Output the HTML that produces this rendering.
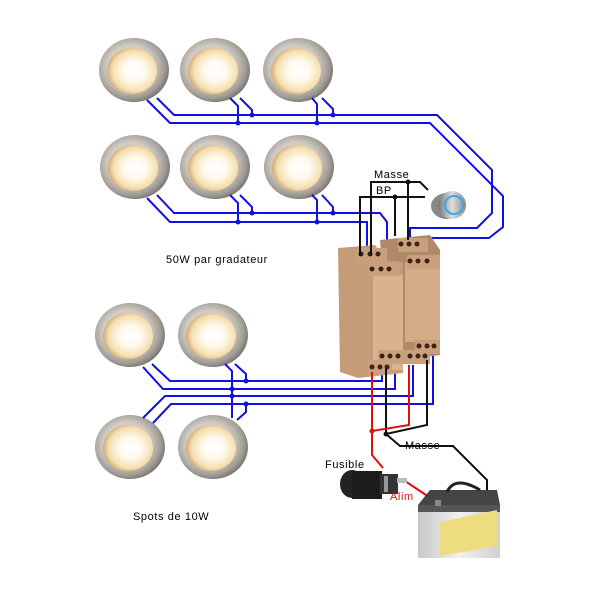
<!DOCTYPE html>
<html><head><meta charset="utf-8"><style>
html,body{margin:0;padding:0;background:#fff;width:600px;height:600px;overflow:hidden}
text{font-family:"Liberation Sans",sans-serif;font-size:11px;letter-spacing:0.6px}
</style></head><body>
<svg width="600" height="600" viewBox="0 0 600 600" xmlns="http://www.w3.org/2000/svg">
<defs>
<radialGradient id="ring" cx="0.45" cy="0.45" r="0.6">
<stop offset="0.55" stop-color="#d2ccc6"/><stop offset="0.82" stop-color="#a09a94"/><stop offset="1" stop-color="#6a6560"/>
</radialGradient>
<radialGradient id="glow" cx="0.55" cy="0.5" r="0.55">
<stop offset="0" stop-color="#ffffff"/><stop offset="0.4" stop-color="#fffaf0"/><stop offset="0.8" stop-color="#f6dfae"/><stop offset="1" stop-color="#d0aa78"/>
</radialGradient>
<g id="lamp">
<ellipse cx="0" cy="0" rx="35" ry="32" fill="url(#ring)"/>
<ellipse cx="-2" cy="1" rx="25" ry="23" fill="url(#glow)"/>
</g>
<linearGradient id="btn" x1="0" x2="1"><stop offset="0" stop-color="#777"/><stop offset="0.5" stop-color="#ddd"/><stop offset="1" stop-color="#888"/></linearGradient>
<linearGradient id="bat" x1="0" x2="1"><stop offset="0" stop-color="#c8c8c8"/><stop offset="0.5" stop-color="#f0f0f0"/><stop offset="1" stop-color="#d0d0d0"/></linearGradient>
</defs>

<use href="#lamp" x="134" y="70"/><use href="#lamp" x="215" y="70"/><use href="#lamp" x="298" y="70"/>
<use href="#lamp" x="135" y="167"/><use href="#lamp" x="215" y="167"/><use href="#lamp" x="299" y="167"/>
<use href="#lamp" x="130" y="335"/><use href="#lamp" x="213" y="335"/>
<use href="#lamp" x="130" y="447"/><use href="#lamp" x="213" y="447"/>

<g fill="none" stroke="#1010e0" stroke-width="2">
<path d="M157 98 L174 115 L437 115 L492 170 L492 213 L477 228 L410 228 L410 245"/>
<path d="M147 100 L170 123 L430 123 L503 196 L503 227 L489 238 L423 238 L421 250"/>
<path d="M230 98 L238 106 L238 123"/><path d="M240 98 L252 110 L252 115"/>
<path d="M312 98 L317 104 L317 123"/><path d="M322 98 L333 109 L333 115"/>
<path d="M157 195 L174 213 L380 213 L387 222 L387 262"/>
<path d="M147 198 L170 222 L367 222 L367 258"/>
<path d="M230 195 L238 203 L238 222"/><path d="M240 195 L252 207 L252 213"/>
<path d="M312 195 L317 200 L317 222"/><path d="M322 195 L333 207 L333 213"/>
<path d="M152 364 L170 381 L382 381 L382 368"/>
<path d="M143 367 L163 389 L395 389 L395 360"/>
<path d="M143 418 L165 396 L413 396 L413 365"/>
<path d="M153 423 L171 404 L433 404 L433 345"/>
<path d="M225 364 L232 371 L232 418"/><path d="M235 364 L246 374 L246 381"/>
<path d="M237 420 L246 412 L246 404"/>
</g>
<g fill="#1010e0">
<circle cx="238" cy="123" r="2.5"/><circle cx="252" cy="115" r="2.5"/><circle cx="317" cy="123" r="2.5"/><circle cx="333" cy="115" r="2.5"/>
<circle cx="238" cy="222" r="2.5"/><circle cx="252" cy="213" r="2.5"/><circle cx="317" cy="222" r="2.5"/><circle cx="333" cy="213" r="2.5"/>
<circle cx="232" cy="389" r="2.5"/><circle cx="232" cy="396" r="2.5"/><circle cx="246" cy="381" r="2.5"/><circle cx="246" cy="404" r="2.5"/>
</g>

<g>
<polygon points="380,240 430,235 440,250 440,355 390,362" fill="#b08a68"/>
<rect x="405" y="262" width="35" height="80" fill="#d4ad88"/>
<rect x="398" y="238" width="30" height="14" fill="#c8a07c"/>
<rect x="407" y="255" width="33" height="14" fill="#c8a07c"/>
<rect x="415" y="340" width="25" height="14" fill="#c8a07c"/>
<rect x="406" y="350" width="24" height="14" fill="#c8a07c"/>
<polygon points="338,248 375,245 385,260 403,262 403,373 358,378 340,372" fill="#c49d78"/>
<rect x="373" y="275" width="30" height="95" fill="#d8b38e"/>
<rect x="357" y="248" width="30" height="14" fill="#c8a07c"/>
<rect x="368" y="262" width="32" height="14" fill="#c8a07c"/>
<rect x="378" y="350" width="28" height="14" fill="#c8a07c"/>
<rect x="368" y="360" width="24" height="14" fill="#c8a07c"/>
</g>
<g fill="#3a2418">
<circle cx="361" cy="254" r="2.5"/><circle cx="370" cy="254" r="2.5"/><circle cx="378" cy="254" r="2.5"/>
<circle cx="372" cy="269" r="2.5"/><circle cx="381" cy="269" r="2.5"/><circle cx="389" cy="269" r="2.5"/>
<circle cx="401" cy="244" r="2.5"/><circle cx="409" cy="244" r="2.5"/><circle cx="417" cy="244" r="2.5"/>
<circle cx="410" cy="261" r="2.5"/><circle cx="418" cy="261" r="2.5"/><circle cx="427" cy="261" r="2.5"/>
<circle cx="382" cy="356" r="2.5"/><circle cx="390" cy="356" r="2.5"/><circle cx="398" cy="356" r="2.5"/>
<circle cx="372" cy="367" r="2.5"/><circle cx="380" cy="367" r="2.5"/><circle cx="387" cy="367" r="2.5"/>
<circle cx="419" cy="346" r="2.5"/><circle cx="427" cy="346" r="2.5"/><circle cx="434" cy="346" r="2.5"/>
<circle cx="410" cy="356" r="2.5"/><circle cx="418" cy="356" r="2.5"/><circle cx="425" cy="356" r="2.5"/>
</g>

<g fill="none" stroke="#111" stroke-width="2">
<path d="M371 256 L371 182 L420 182 L428 190"/>
<path d="M360 256 L360 197 L425 197"/>
<path d="M408 181 L408 240"/><path d="M395 197 L395 236"/>
<path d="M386 368 L386 434 L427 425 L427 360"/>
<path d="M386 434 L400 446 L453 446 L487 480 L487 492"/>
</g>
<g fill="#111"><circle cx="408" cy="182" r="2.5"/><circle cx="395" cy="197" r="2.5"/><circle cx="386" cy="434" r="2.5"/></g>

<ellipse cx="447" cy="206" rx="16" ry="13" fill="#888"/>
<ellipse cx="452" cy="205" rx="14" ry="14" fill="url(#btn)"/>
<circle cx="454" cy="205" r="9" fill="none" stroke="#3aa8e8" stroke-width="2"/>

<g fill="none" stroke="#e01010" stroke-width="2">
<path d="M372 372 L372 455 L383 468"/>
<path d="M409 365 L409 425 L372 431"/>
<path d="M405 481 L438 503"/>
</g>
<circle cx="372" cy="431" r="2.5" fill="#e01010"/>

<ellipse cx="352" cy="484" rx="12" ry="14" fill="#222"/>
<rect x="352" y="471" width="30" height="28" fill="#1c1c1c"/>
<rect x="380" y="474" width="18" height="20" fill="#333"/>
<rect x="384" y="476" width="4" height="16" fill="#999"/>
<rect x="397" y="478" width="10" height="5" fill="#bbb"/>

<polygon points="418,505 430,490 497,490 500,505" fill="#444"/>
<rect x="418" y="505" width="82" height="53" fill="url(#bat)"/>
<rect x="418" y="505" width="82" height="7" fill="#555"/>
<polygon points="440,522 497,510 497,546 440,556" fill="#eedd80"/>
<path d="M447 492 Q455 475 480 490" fill="none" stroke="#222" stroke-width="3"/>
<rect x="435" y="500" width="6" height="6" fill="#888"/>

<text x="374" y="178">Masse</text>
<text x="376" y="194">BP</text>
<text x="166" y="263">50W par gradateur</text>
<text x="133" y="520">Spots de 10W</text>
<text x="405" y="449">Masse</text>
<text x="325" y="468">Fusible</text>
<text x="390" y="500" fill="#e01010">Alim</text>
</svg>
</body></html>
